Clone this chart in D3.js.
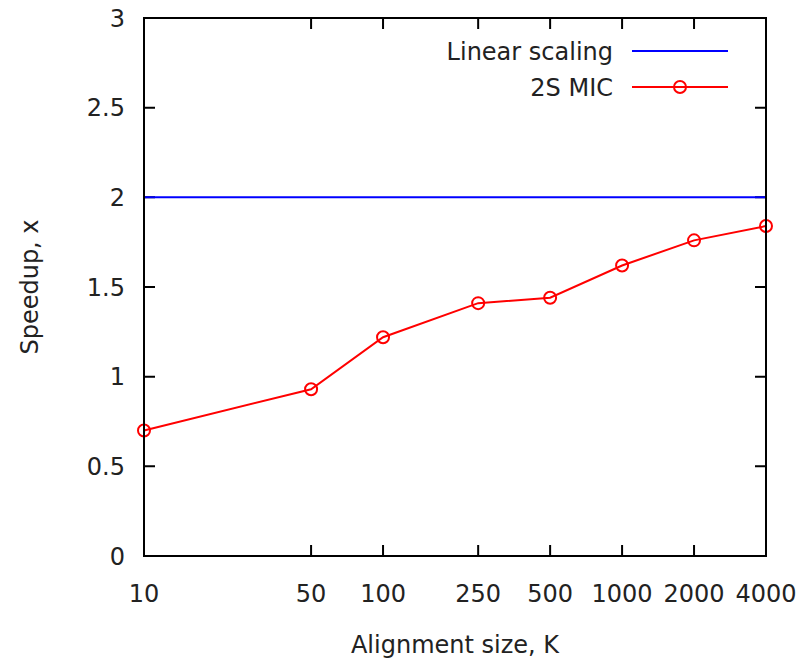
<!DOCTYPE html>
<html>
<head>
<meta charset="utf-8">
<script src="https://cdn.jsdelivr.net/npm/d3@7"></script>
<style>
  body { margin: 0; background: #fff; }
  text { font-family: "DejaVu Sans", sans-serif; fill: #222; }
</style>
</head>
<body>
<svg id="chart" width="806" height="658"></svg>
<script>
const width = 806, height = 658;
const svg = d3.select("#chart");

// data
const sizes = [10, 50, 100, 250, 500, 1000, 2000, 4000];
const speedup = [0.70, 0.93, 1.22, 1.41, 1.44, 1.62, 1.76, 1.84];
const linear = [2, 2];
const yTicks = [0, 0.5, 1, 1.5, 2, 2.5, 3];
const seriesNames = ["Linear scaling", "2S MIC"];

const plotL = 144, plotR = 766, plotT = 18, plotB = 556;

const x = d3.scaleLog().domain([10, 4000]).range([plotL, plotR]);
const y = d3.scaleLinear().domain([0, 3]).range([plotB, plotT]);

const fs = 24;
const tickLen = 11;

// ticks (inward, mirrored)
const g = svg.append("g");
g.selectAll(".xt").data(sizes).join("path")
  .attr("d", d => `M${x(d)},${plotB}v${-tickLen}M${x(d)},${plotT}v${tickLen}`)
  .attr("stroke", "#000").attr("stroke-width", 2);
g.selectAll(".yt").data(yTicks).join("path")
  .attr("d", d => `M${plotL},${y(d)}h${tickLen}M${plotR},${y(d)}h${-tickLen}`)
  .attr("stroke", "#000").attr("stroke-width", 2);

// tick labels
g.selectAll(".xl").data(sizes).join("text")
  .attr("x", d => x(d)).attr("y", 602)
  .attr("text-anchor", "middle").attr("font-size", fs)
  .text(d => d);
g.selectAll(".yl").data(yTicks).join("text")
  .attr("x", 125).attr("y", d => y(d) + 8.5)
  .attr("text-anchor", "end").attr("font-size", fs)
  .text(d => d);

// axis titles
svg.append("text")
  .attr("x", (plotL + plotR) / 2).attr("y", 653)
  .attr("text-anchor", "middle").attr("font-size", fs)
  .text("Alignment size, K");
svg.append("text")
  .attr("transform", `translate(38,${(plotT + plotB) / 2}) rotate(-90)`)
  .attr("text-anchor", "middle").attr("font-size", fs)
  .text("Speedup, x");

// linear scaling
svg.append("line")
  .attr("x1", x(10)).attr("x2", x(4000))
  .attr("y1", y(linear[0])).attr("y2", y(linear[1]))
  .attr("stroke", "#0000ff").attr("stroke-width", 2);

// 2S MIC
const line = d3.line().x((d, i) => x(sizes[i])).y(d => y(d));
svg.append("path")
  .datum(speedup)
  .attr("d", line)
  .attr("fill", "none").attr("stroke", "#ff0000").attr("stroke-width", 2);
svg.selectAll(".pt").data(speedup).join("circle")
  .attr("cx", (d, i) => x(sizes[i])).attr("cy", d => y(d))
  .attr("r", 6)
  .attr("fill", "none").attr("stroke", "#ff0000").attr("stroke-width", 2);

// border
svg.append("rect")
  .attr("x", plotL).attr("y", plotT)
  .attr("width", plotR - plotL).attr("height", plotB - plotT)
  .attr("fill", "none").attr("stroke", "#000").attr("stroke-width", 2);

// legend
const legend = svg.append("g");
const rows = [51, 87];
const colors = ["#0000ff", "#ff0000"];
seriesNames.forEach((name, i) => {
  legend.append("text")
    .attr("x", 613).attr("y", rows[i] + 8.5)
    .attr("text-anchor", "end").attr("font-size", fs)
    .text(name);
  legend.append("line")
    .attr("x1", 632).attr("x2", 728)
    .attr("y1", rows[i]).attr("y2", rows[i])
    .attr("stroke", colors[i]).attr("stroke-width", 2);
});
legend.append("circle")
  .attr("cx", 680).attr("cy", rows[1]).attr("r", 6)
  .attr("fill", "none").attr("stroke", "#ff0000").attr("stroke-width", 2);
</script>
</body>
</html>
